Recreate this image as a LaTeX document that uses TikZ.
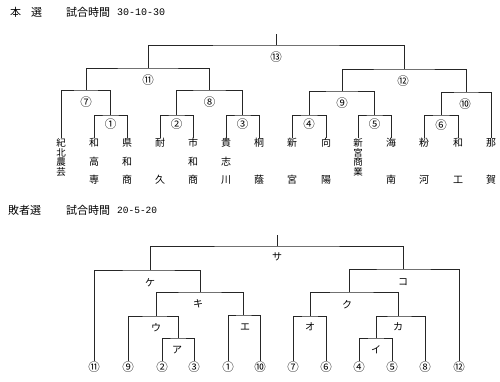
\documentclass[tikz,border=0pt]{standalone}
\usepackage{fontspec}
\newfontfamily\jp{Noto Sans CJK JP}
\newfontfamily\mono{Liberation Mono}
\begin{document}
\begin{tikzpicture}[x=1pt,y=-1pt,
  br/.style={draw=black!85, line width=0.7pt},
  nm/.style={font=\jp\fontsize{10}{10}\selectfont, inner sep=0pt},
  sm/.style={font=\jp\fontsize{9.5}{9.5}\selectfont, inner sep=0pt},
  lab/.style={font=\jp\fontsize{11.5}{11.5}\selectfont, inner sep=0pt},
  kt/.style={font=\jp\fontsize{10}{10}\selectfont, inner sep=0pt},
  ttl/.style={font=\jp\fontsize{11}{11}\selectfont, inner sep=0pt, anchor=west},
  num/.style={font=\mono\fontsize{10}{10}\selectfont, inner sep=0pt, anchor=west}]
\useasboundingbox (0,0) rectangle (500,381);
\fill[white] (0,0) rectangle (500,381);
% titles
\node[ttl] (h1a) at (10,12) {本};
\node[ttl] (h1b) at (31,12) {選};
\node[ttl] (h1c) at (66,12) {試合時間};
\node[num] (h1d) at (117,12) {30-10-30};
\node[ttl] (h2a) at (8,210) {敗者選};
\node[ttl] (h2c) at (66,210) {試合時間};
\node[num, font=\mono\fontsize{9.5}{9.5}\selectfont] (h2d) at (117,210) {20-5-20};
% names (main bracket)
\node[sm] (n1) at (61,143) {紀}; \node[sm] (n1b) at (61,152.5) {北}; \node[sm] (n1c) at (61,162) {農}; \node[sm] (n1d) at (61,171.5) {芸};
\node[nm] (n2) at (94,143) {和}; \node[nm] (n2b) at (94,161.5) {高}; \node[nm] (n2c) at (94,180) {専};
\node[nm] (n3) at (127,143) {県}; \node[nm] (n3b) at (127,161.5) {和}; \node[nm] (n3c) at (127,180) {商};
\node[nm] (n4) at (160,143) {耐}; \node[nm] (n4b) at (160,180) {久};
\node[nm] (n5) at (193,143) {市}; \node[nm] (n5b) at (193,161.5) {和}; \node[nm] (n5c) at (193,180) {商};
\node[nm] (n6) at (226,143) {貴}; \node[nm] (n6b) at (226,161.5) {志}; \node[nm] (n6c) at (226,180) {川};
\node[nm] (n7) at (259,143) {桐}; \node[nm] (n7b) at (259,180) {蔭};
\node[nm] (n8) at (292,143) {新}; \node[nm] (n8b) at (292,180) {宮};
\node[nm] (n9) at (326,143) {向}; \node[nm] (n9b) at (326,180) {陽};
\node[sm] (n10) at (358,143) {新}; \node[sm] (n10b) at (358,152.5) {宮}; \node[sm] (n10c) at (358,162) {商}; \node[sm] (n10d) at (358,171.5) {業};
\node[nm] (n11) at (391,143) {海}; \node[nm] (n11b) at (391,180) {南};
\node[nm] (n12) at (424,143) {粉}; \node[nm] (n12b) at (424,180) {河};
\node[nm] (n13) at (458,143) {和}; \node[nm] (n13b) at (458,180) {工};
\node[nm] (n14) at (491,143) {那}; \node[nm] (n14b) at (491,180) {賀};
% match points (main)
\coordinate (m1) at (110.5,115); \coordinate (m2) at (176.5,115); \coordinate (m3) at (242.5,115);
\coordinate (m4) at (309,115); \coordinate (m5) at (374.5,115); \coordinate (m6) at (441,115);
\coordinate (m7) at (86,90); \coordinate (m8) at (209.5,90); \coordinate (m9) at (342,91); \coordinate (m10) at (466,92);
\coordinate (m11) at (148,68); \coordinate (m12) at (404,69);
\coordinate (m13) at (276,45); \coordinate (top1) at (276,34);
\draw[br] (n2.north) |- (m1) -| (n3.north);
\draw[br] (n4.north) |- (m2) -| (n5.north);
\draw[br] (n6.north) |- (m3) -| (n7.north);
\draw[br] (n8.north) |- (m4) -| (n9.north);
\draw[br] (n10.north) |- (m5) -| (n11.north);
\draw[br] (n12.north) |- (m6) -| (n13.north);
\draw[br] (n1.north) |- (m7) -| (m1);
\draw[br] (m2) |- (m8) -| (m3);
\draw[br] (m4) |- (m9) -| (m5);
\draw[br] (m6) |- (m10) -| (n14.north);
\draw[br] (m7) |- (m11) -| (m8);
\draw[br] (m9) |- (m12) -| (m10);
\draw[br] (m11) |- (m13) -| (m12);
\draw[br] (m13) -- (top1);
\node[lab] (l1) at (110.5,124) {①};
\node[lab] (l2) at (176.5,124) {②};
\node[lab] (l3) at (242.5,124) {③};
\node[lab] (l4) at (309,124) {④};
\node[lab] (l5) at (374.5,124) {⑤};
\node[lab] (l6) at (441,125) {⑥};
\node[lab] (l7) at (86,102) {⑦};
\node[lab] (l8) at (209.5,102) {⑧};
\node[lab] (l9) at (342,103) {⑨};
\node[lab] (l10) at (465,104) {⑩};
\node[lab] (l11) at (148,80) {⑪};
\node[lab] (l12) at (403,81) {⑫};
\node[lab] (l13) at (276,57) {⑬};
% losers bracket leaves
\node[lab] (b11) at (94,367) {⑪};
\node[lab] (b9) at (128,367) {⑨};
\node[lab] (b2) at (162,367) {②};
\node[lab] (b3) at (194,367) {③};
\node[lab] (b1) at (228,367) {①};
\node[lab] (b10) at (260,367) {⑩};
\node[lab] (b7) at (293,367) {⑦};
\node[lab] (b6) at (326,367) {⑥};
\node[lab] (b4) at (359,367) {④};
\node[lab] (b5) at (392,367) {⑤};
\node[lab] (b8) at (425,367) {⑧};
\node[lab] (b12) at (459,367) {⑫};
\coordinate (ma) at (178,338); \coordinate (mi) at (376,338);
\coordinate (mu) at (156,316); \coordinate (me) at (243,315);
\coordinate (mo) at (310,316); \coordinate (mka) at (398,316);
\coordinate (mki) at (200,292); \coordinate (mku) at (349,292);
\coordinate (mke) at (150,270); \coordinate (mko) at (403,269);
\coordinate (msa) at (277,246); \coordinate (top2) at (277,235);
\draw[br] (b2.north) |- (ma) -| (b3.north);
\draw[br] (b4.north) |- (mi) -| (b5.north);
\draw[br] (b9.north) |- (mu) -| (ma);
\draw[br] (b1.north) |- (me) -| (b10.north);
\draw[br] (b7.north) |- (mo) -| (b6.north);
\draw[br] (mi) |- (mka) -| (b8.north);
\draw[br] (mu) |- (mki) -| (me);
\draw[br] (mo) |- (mku) -| (mka);
\draw[br] (b11.north) |- (mke) -| (mki);
\draw[br] (mku) |- (mko) -| (b12.north);
\draw[br] (mke) |- (msa) -| (mko);
\draw[br] (msa) -- (top2);
\node[kt] (ka) at (177,350) {ア};
\node[kt] (ki) at (376,350) {イ};
\node[kt] (ku) at (156,328) {ウ};
\node[kt] (ke) at (245,327) {エ};
\node[kt] (ko) at (310,327) {オ};
\node[kt] (kka) at (398,327) {カ};
\node[kt] (kki) at (198,304) {キ};
\node[kt] (kku) at (347,305) {ク};
\node[kt] (kke) at (150,283) {ケ};
\node[kt] (kko) at (403,282) {コ};
\node[kt] (ksa) at (277,257) {サ};
\end{tikzpicture}
\end{document}
